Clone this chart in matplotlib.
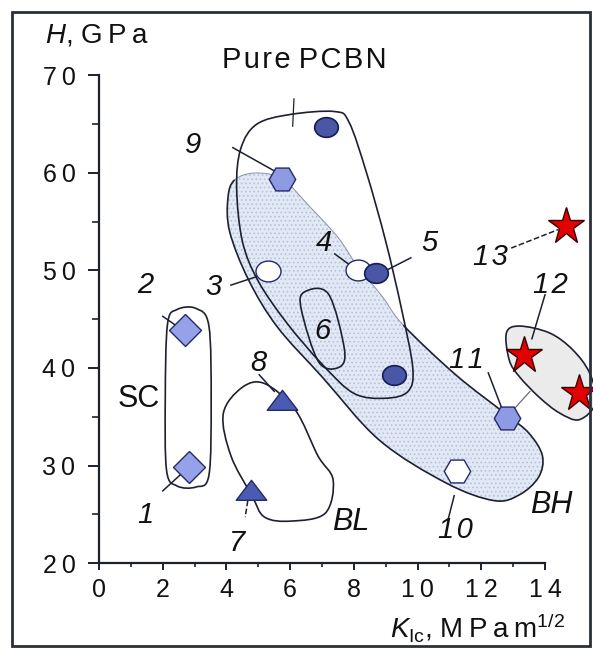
import numpy as np
import matplotlib.pyplot as plt
from matplotlib.path import Path
from matplotlib.patches import PathPatch, Rectangle
from matplotlib.ticker import FuncFormatter

plt.rcParams['font.family'] = ['Liberation Sans', 'DejaVu Sans']
plt.rcParams['mathtext.fontset'] = 'custom'
plt.rcParams['mathtext.rm'] = 'Liberation Sans'
plt.rcParams['mathtext.it'] = 'Liberation Sans:italic'
plt.rcParams['hatch.linewidth'] = 0.7

# K_Ic (MPa m^1/2) and H (GPa)
sc_k, sc_h = [2.83, 2.71], [29.8, 43.9]            # 1, 2
open_k, open_h = [5.30, 8.12], [49.9, 50.0]        # 3, 4
dark_k, dark_h = [8.69, 7.13, 9.27], [49.7, 64.7, 39.3]  # 5 + pure PCBN
hex_k, hex_h = [5.74, 12.82], [59.4, 34.9]         # 9, 11
hexo_k, hexo_h = [11.25], [29.4]                   # 10
tri_k, tri_h = [4.77, 5.74], [27.4, 36.6]          # 7, 8
star_k, star_h = [13.35, 14.66, 15.08], [41.3, 54.6, 37.4]  # 12, 13

# region outlines (data units)
sc_line = [(2.15, 44.5), (2.45, 46.0), (3.05, 46.1), (3.45, 44.3), (3.52, 36.5),
           (3.45, 29.0), (3.05, 27.8), (2.45, 27.9), (2.12, 29.5), (2.08, 37.0)]
bl_line = [(4.49, 38.0), (5.2, 38.4), (6.16, 35.7), (6.87, 31.0), (7.35, 28.5),
           (7.1, 25.1), (6.04, 24.3), (5.2, 24.7), (4.8, 26.9), (4.14, 31.0), (3.9, 35.3)]
pcbn_line = [(4.45, 62.5), (4.95, 65.0), (6.0, 66.0), (7.4, 66.3), (7.85, 65.2),
             (8.4, 60.0), (9.0, 53.0), (9.5, 46.0), (9.85, 40.0), (9.7, 37.6),
             (9.0, 36.9), (8.0, 37.4), (7.0, 40.4), (5.9, 44.6), (5.0, 48.9),
             (4.5, 53.0), (4.32, 58.5)]
bh_line = [(4.26, 59.3), (4.9, 60.0), (5.75, 59.4), (6.6, 56.6), (7.5, 53.4),
           (8.1, 50.5), (8.9, 47.3), (9.55, 44.4), (11.2, 39.3), (12.8, 35.2),
           (13.5, 33.3), (13.92, 31.0), (13.8, 28.8), (13.2, 27.0), (12.4, 26.4),
           (10.9, 28.2), (8.8, 32.6), (7.0, 39.1), (5.6, 44.2), (4.7, 49.0),
           (4.1, 54.0), (4.05, 57.5)]
six_line = [(6.45, 47.8), (7.2, 47.6), (7.7, 42.0), (7.55, 40.1), (6.9, 40.6), (6.35, 46.0)]
star_line = [(12.79, 43.6), (13.2, 44.3), (14.14, 43.6), (14.86, 41.9), (15.4, 39.5),
             (15.6, 36.5), (15.08, 34.7), (14.45, 35.4), (13.82, 37.0), (13.2, 39.1),
             (12.88, 40.8)]

labels = ['1', '2', '3', '4', '5', '6', '7', '8', '9', '10', '11', '12', '13']
label_xy = [(1.44, 24.9), (1.44, 48.5), (3.6, 48.3), (7.05, 52.8), (10.38, 52.8),
            (7.0, 43.8), (4.35, 22.1), (5.0, 40.5), (2.95, 62.9), (11.2, 23.4),
            (11.55, 40.8), (14.18, 48.5), (12.3, 51.4)]
leaders = [((2.0, 27.4), (2.57, 29.1)), ((2.0, 45.3), (2.53, 44.1)),
           ((4.14, 48.5), (5.07, 49.5)), ((7.4, 51.7), (7.94, 50.4)),
           ((8.95, 49.9), (9.79, 51.3)), None, ((4.67, 26.4), (4.59, 24.7)),
           ((5.03, 39.3), (5.5, 37.6)), ((4.2, 62.6), (5.62, 60.0)),
           ((10.97, 24.6), (11.15, 26.9)), ((12.22, 39.5), (12.7, 35.4)),
           ((14.0, 47.5), (13.59, 43.0)), ((12.94, 52.3), (14.42, 54.2))]

TS = '\u2009'
HS = '\u200a'


def spaced(s, sp=HS):
    return sp.join(s)


def blob(pts, first=0, last=None):
    p = np.asarray(pts, float)
    n = len(p)
    if last is None:
        last = n
    verts, codes = [p[first % n]], [Path.MOVETO]
    for i in range(first, last):
        a, b, c, d = p[(i - 1) % n], p[i % n], p[(i + 1) % n], p[(i + 2) % n]
        verts += [b + (c - a) / 6, c - (d - b) / 6, c]
        codes += [Path.CURVE4] * 3
    return Path(verts, codes)


fig = plt.figure(figsize=(5.93, 6.49), dpi=100)
ax = fig.add_axes([0.167, 0.1325, 0.752, 0.7512])
ax.set_xlim(0, 14)
ax.set_ylim(20, 70)

ink = '#1c2030'
ax.add_patch(PathPatch(blob(bh_line), facecolor='#e2e9f5', edgecolor='#b4c2de',
                       hatch='....', lw=0, zorder=1))
ax.add_patch(PathPatch(blob(bh_line, 7, len(bh_line)), fill=False, ec=ink, lw=1.2, zorder=2))
ax.add_patch(PathPatch(blob(bh_line, 0, 7), fill=False, ec='#8a90a0', lw=0.7, zorder=2))
ax.add_patch(PathPatch(blob(star_line), facecolor='#ebebeb', ec=ink, lw=1.2,
                       zorder=2, clip_on=False))
for line in [sc_line, bl_line, pcbn_line, six_line]:
    ax.add_patch(PathPatch(blob(line), fill=False, ec=ink, lw=1.2, zorder=2))

# small mark on top of pure PCBN outline
ax.plot([6.08, 6.12], [64.8, 67.6], color=ink, lw=0.9, zorder=2)
ax.plot([13.06, 13.53], [35.9, 37.6], color='#707070', lw=0.9, zorder=2)

for lab, (tx, ty), ld in zip(labels, label_xy, leaders):
    ax.text(tx, ty, spaced(lab), fontsize=21, style='italic', ha='center', va='center',
            color='#111111', zorder=6)
    if ld is not None:
        ls = '--' if lab in ('7', '13') else '-'
        ax.plot([ld[0][0], ld[1][0]], [ld[0][1], ld[1][1]], color=ink, lw=1.1,
                ls=ls, zorder=3, clip_on=False)

ax.text(1.26, 36.8, 'SC', fontsize=22, ha='center', va='center', color='#111111')
ax.text(14.2, 26.0, 'BH', fontsize=22, style='italic', ha='center', va='center',
        color='#111111', clip_on=False)
ax.text(7.9, 24.2, 'BL', fontsize=22, style='italic', ha='center', va='center',
        color='#111111')
ax.text(6.43, 71.6, spaced('Pure') + ' ' + spaced('PCBN'), fontsize=21, ha='center',
        va='center', color='#111111', clip_on=False)

circ = Path.unit_circle()
ell = Path(circ.vertices * [1.2, 1.0], circ.codes)
tri = Path([(0, 0.95), (-1.3, -0.75), (1.3, -0.75), (0, 0.95)],
           [Path.MOVETO, Path.LINETO, Path.LINETO, Path.CLOSEPOLY])
edge = '#232a66'
ax.plot(sc_k, sc_h, 'D', ms=16, mfc='#95a2ea', mec=edge, mew=1.0, zorder=5)
ax.plot(open_k, open_h, ls='none', marker=ell, ms=18, mfc='white', mec=edge, mew=1.0, zorder=5)
ax.plot(dark_k, dark_h, ls='none', marker=ell, ms=17, mfc='#4a56a6', mec='#161c55', mew=1.2, zorder=5)
ax.plot(hex_k, hex_h, 'H', ms=19, mfc='#8e9be4', mec=edge, mew=1.0, zorder=5)
ax.plot(hexo_k, hexo_h, 'H', ms=19, mfc='white', mec=edge, mew=1.0, zorder=5)
ax.plot(tri_k, tri_h, ls='none', marker=tri, ms=22, mfc='#4b5bb2', mec=edge, mew=1.0, zorder=5)
ax.plot(star_k, star_h, '*', ms=28, mfc='#e30000', mec='#3a0000', mew=1.0,
        zorder=5, clip_on=False)

for s in ['top', 'right']:
    ax.spines[s].set_visible(False)
for s in ['left', 'bottom']:
    ax.spines[s].set_linewidth(1.6)
    ax.spines[s].set_color(ink)
ax.set_xticks(np.arange(0, 15, 2))
ax.set_xticks(np.arange(1, 14, 2), minor=True)
ax.set_yticks(np.arange(20, 71, 10))
ax.set_yticks(np.arange(25, 70, 10), minor=True)
ax.xaxis.set_major_formatter(FuncFormatter(lambda v, p: spaced(f'{v:.0f}', TS)))
ax.yaxis.set_major_formatter(FuncFormatter(lambda v, p: spaced(f'{v:.0f}', TS)))
ax.tick_params(axis='both', which='major', labelsize=18, width=1.4, color=ink,
               labelcolor='#111111')
ax.tick_params(axis='y', which='major', length=8, pad=9)
ax.tick_params(axis='y', which='minor', length=5, width=1.2, color=ink)
ax.tick_params(axis='x', which='major', length=5, pad=6)
ax.tick_params(axis='x', which='minor', length=3, width=1.2, color=ink)
ax.patch.set_alpha(0)

fig.text(45 / 593, 1 - 36 / 649, '$H$, ' + spaced('GPa', TS), fontsize=20, ha='left',
         va='center', color='#111111')
fig.text(565 / 593, 1 - 628 / 649, r'$K_{\mathrm{Ic}}$, ' + spaced('MPam', TS) + r'$^{1/2}$',
         fontsize=20, ha='right', va='center', color='#111111')
fig.patches.append(Rectangle((12 / 593, 3 / 649), 578 / 593, 634 / 649,
                             transform=fig.transFigure, fill=False,
                             ec='#2a2f3a', lw=2))

fig.savefig('out.png', dpi=100)
